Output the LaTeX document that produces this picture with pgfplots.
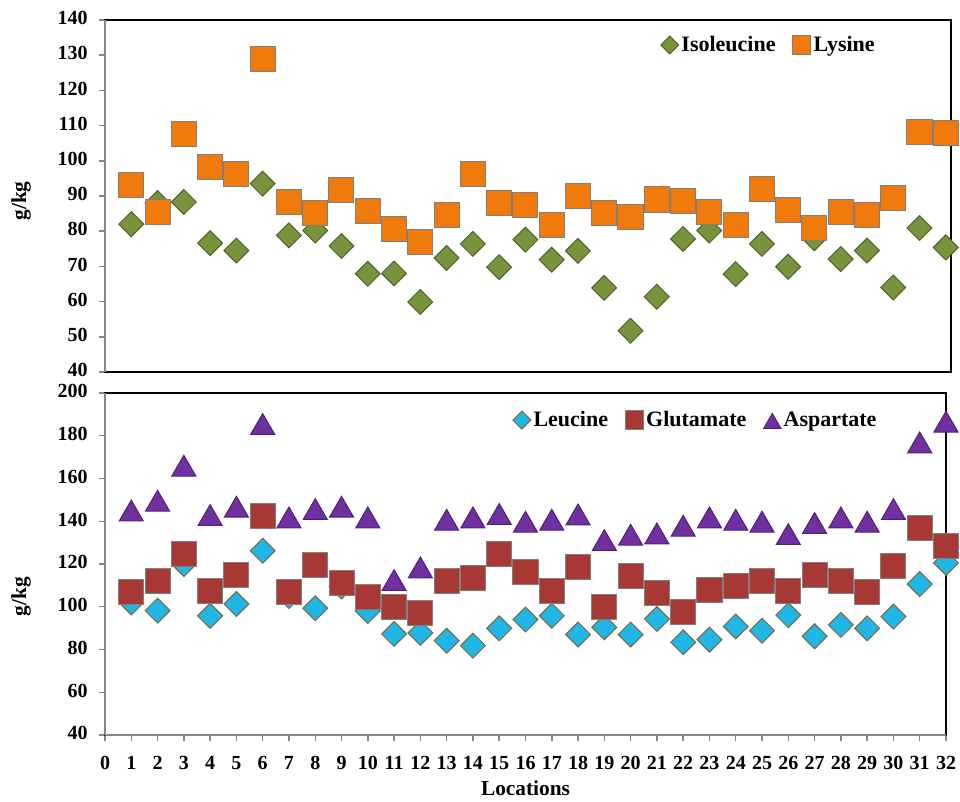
\documentclass[border=0pt]{standalone}
\usepackage{pgfplots}
\pgfplotsset{compat=1.18}
\usepackage{fontspec}
\setmainfont{Liberation Serif}
\definecolor{isoF}{RGB}{119,147,60}
\definecolor{isoE}{RGB}{79,98,40}
\definecolor{lysF}{RGB}{240,122,12}
\definecolor{sqE}{RGB}{128,128,128}
\definecolor{leuF}{RGB}{32,182,230}
\definecolor{leuE}{RGB}{120,105,60}
\definecolor{gluF}{RGB}{168,56,52}
\definecolor{aspF}{RGB}{112,48,160}
\definecolor{aspE}{RGB}{80,32,120}
\definecolor{axgray}{RGB}{134,134,134}

\pgfplotsset{
  common/.style={
    scale only axis, clip=false, xmin=0,
    axis line style={black, line width=1.1pt},
    tick pos=left, tick align=outside, major tick length=4.5pt,
    major tick style={axgray, line width=1.1pt},
    ticklabel style={font=\bfseries\fontsize{15}{18}\selectfont},
    typeset ticklabels with strut,
    yticklabel style={xshift=-5pt},
    xticklabel style={yshift=-5pt},
    /pgf/number format/assume math mode=true,
    label style={font=\bfseries\fontsize{16}{19}\selectfont},
    legend style={draw=none, fill=none, font=\bfseries\fontsize{16.5}{19}\selectfont,
      legend columns=-1, /tikz/every even column/.append style={column sep=11pt}},
    legend image post style={every mark/.append style={scale=0.72}},
    ylabel={g/kg},
  }
}

\begin{document}
\begin{tikzpicture}
\begin{axis}[common, at={(78.75pt,-15pt)}, anchor=north west,
  width=634.5pt, height=264pt, xmax=32.2, ymin=40, ymax=140,
  ytick={40,50,...,140}, xtick=\empty,
  ylabel style={at={(rel axis cs:-0.0993,0.486)}, anchor=center},
  legend style={at={(0.652,0.929)}, anchor=west}]
\addplot[only marks, mark=square*, mark size=6.6pt,
  mark options={rotate=45, fill=isoF, draw=isoE, line width=0.75pt}] coordinates {
(1,82) (2,88) (3,88.3) (4,76.6) (5,74.5) (6,93.5) (7,78.8) (8,80.2)
(9,75.8) (10,67.9) (11,68) (12,59.9) (13,72.4) (14,76.4) (15,69.8) (16,77.6)
(17,71.9) (18,74.4) (19,63.9) (20,51.7) (21,61.4) (22,77.8) (23,80.2) (24,67.8)
(25,76.4) (26,69.9) (27,78) (28,72.1) (29,74.5) (30,64) (31,80.9) (32,75.4)};
\addlegendentry{Isoleucine}
\addplot[only marks, mark=square*, mark size=9.4pt,
  mark options={fill=lysF, draw=sqE, line width=0.75pt}] coordinates {
(1,93) (2,85.5) (3,107.7) (4,98.2) (5,96.3) (6,128.8) (7,88.2) (8,85.2)
(9,91.6) (10,85.8) (11,80.6) (12,77) (13,84.6) (14,96.2) (15,88) (16,87.5)
(17,81.7) (18,90) (19,85.3) (20,84) (21,89) (22,88.7) (23,85.4) (24,81.8)
(25,91.9) (26,85.9) (27,80.9) (28,85.4) (29,84.6) (30,89.4) (31,108.2) (32,108)};
\addlegendentry{Lysine}
\draw[axgray, line width=1.1pt] (rel axis cs:0,0) -- (rel axis cs:0,1);
\end{axis}

\begin{axis}[common, at={(78.75pt,-294.75pt)}, anchor=north west,
  width=630.75pt, height=256.5pt, xmax=32, ymin=40, ymax=200,
  ytick={40,60,...,200}, xtick={0,1,...,32},
  xlabel={Locations},
  xlabel style={yshift=4pt},
  ylabel style={at={(rel axis cs:-0.0999,0.404)}, anchor=center},
  legend style={at={(0.48,0.921)}, anchor=west}]
\addplot[only marks, mark=square*, mark size=6.6pt,
  mark options={rotate=45, fill=leuF, draw=leuE, line width=0.75pt}] coordinates {
(1,102) (2,98.2) (3,120) (4,95.8) (5,101.3) (6,126.2) (7,105) (8,99.3)
(9,109.5) (10,98) (11,87.3) (12,87.8) (13,84.1) (14,81.8) (15,89.9) (16,94)
(17,95.8) (18,87) (19,90.4) (20,87) (21,94.3) (22,83.4) (23,84.6) (24,90.8)
(25,88.8) (26,96.1) (27,86.2) (28,91.5) (29,89.9) (30,95.4) (31,110.6) (32,120.5)};
\addlegendentry{Leucine}
\addplot[only marks, mark=square*, mark size=9.4pt,
  mark options={fill=gluF, draw=sqE, line width=0.75pt}] coordinates {
(1,106.7) (2,111.9) (3,124.7) (4,107.2) (5,115) (6,142.3) (7,106.7) (8,119.5)
(9,111) (10,104.4) (11,99.7) (12,96.9) (13,111.9) (14,113.5) (15,124.7) (16,116.1)
(17,107.5) (18,118.8) (19,99.7) (20,114.5) (21,106.3) (22,97.4) (23,107.8) (24,109.6)
(25,111.9) (26,107.2) (27,115) (28,111.9) (29,106.7) (30,119.2) (31,136.8) (32,128.6)};
\addlegendentry{Glutamate}
\addplot[only marks, mark=triangle*, mark size=10.4pt,
  mark options={fill=aspF, draw=aspE, line width=0.75pt, yshift=-2.6pt}] coordinates {
(1,145) (2,149.6) (3,166) (4,142.9) (5,146.8) (6,185.5) (7,141.8) (8,145.7)
(9,146.8) (10,141.8) (11,112.5) (12,118.4) (13,140.7) (14,141.8) (15,143.4) (16,139.8)
(17,140.7) (18,143.2) (19,131.2) (20,133.7) (21,134.3) (22,137.9) (23,141.8) (24,140.7)
(25,139.8) (26,134) (27,139.2) (28,141.8) (29,139.8) (30,145.7) (31,176.9) (32,186.6)};
\addlegendentry{Aspartate}
\draw[axgray, line width=1.1pt] (rel axis cs:0,0) -- (rel axis cs:0,1);
\draw[axgray, line width=1.1pt] (rel axis cs:0,0) -- (rel axis cs:1,0);
\end{axis}
\pgfresetboundingbox
\path (0,0) rectangle (720pt,-601.5pt);
\end{tikzpicture}
\end{document}
